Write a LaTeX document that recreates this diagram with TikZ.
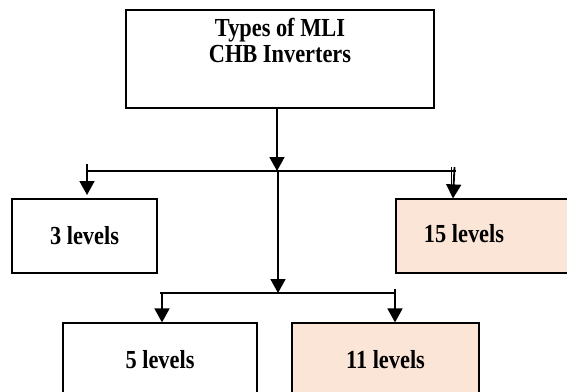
\documentclass[tikz,border=0pt]{standalone}
\usepackage{fontspec}
\setmainfont[FakeStretch=0.86]{Liberation Serif}
\usetikzlibrary{arrows.meta}
\definecolor{peach}{HTML}{FBE5D6}
\tikzset{
  box/.style={draw=black, line width=1.2pt, fill=white, inner sep=0pt},
  lbl/.style={font=\fontsize{26}{26}\selectfont\bfseries, inner sep=0pt, align=center},
  conn/.style={line width=1.8pt},
  arr/.style={conn, -{Triangle[width=15pt,length=14pt]}}
}
\begin{document}
\begin{tikzpicture}[x=1pt,y=-1pt]
  \useasboundingbox (0,0) rectangle (567,391);
  \clip (0,0) rectangle (567,391);

  % root box with its two-line title near the top
  \node[box, minimum width=308pt, minimum height=98pt] (root) at (280,59) {};
  \node[lbl] (title) at (280,40) {Types of MLI\\CHB Inverters};

  % level boxes
  \node[box, lbl, minimum width=145pt, minimum height=74pt] (b3) at (84.5,236) {3 levels};
  \node[box, fill=peach, minimum width=194pt, minimum height=74pt] (b15) at (493,236) {};
  \node[lbl] (t15) at (464,234) {15 levels};
  \node[box, lbl, minimum width=194pt, minimum height=74pt] (b5) at (160,360) {5 levels};
  \node[box, lbl, fill=peach, minimum width=187pt, minimum height=74pt] (b11) at (385.5,360) {11 levels};

  % upper distribution bus
  \coordinate (busL) at (87,171);
  \coordinate (busR) at (456,171);
  \coordinate (busM) at (278,171);
  \draw[arr] (root.south -| 277,0) -- (277,171);
  \draw[conn] (busL) -- (busR);
  \draw[arr] (87,164) -- (87,195);
  \draw[conn, line width=1.2pt] (451.5,167) -- (451.5,190);
  \draw[arr] (454.5,167) -- (b15.north -| 453,0);

  % lower distribution bus
  \coordinate (bus2L) at (160,293);
  \coordinate (bus2R) at (395,293);
  \draw[arr] (busM) -- (278,293);
  \draw[conn] (bus2L) -- (bus2R);
  \draw[arr] (162,293) -- (b5.north -| 162,0);
  \draw[arr] (395,289) -- (b11.north -| 395,0);
\end{tikzpicture}
\end{document}
